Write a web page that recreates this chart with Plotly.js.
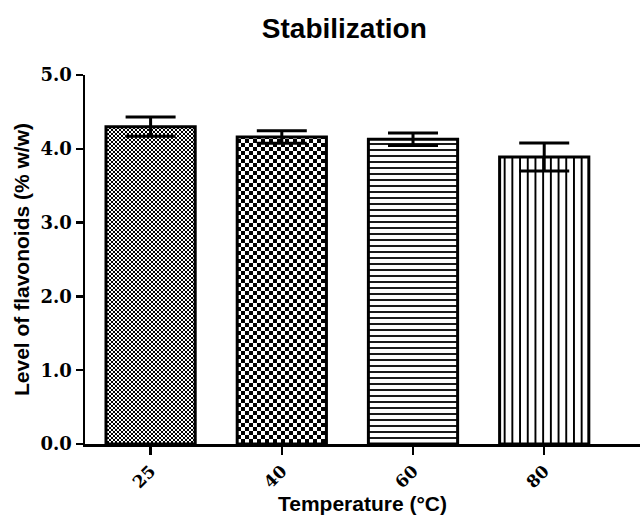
<!DOCTYPE html>
<html>
<head>
<meta charset="utf-8">
<script src="https://cdn.plot.ly/plotly-3.0.1.min.js"></script>
<style>html,body{margin:0;padding:0;background:#fff;}#chart{width:640px;height:517px;}</style>
</head>
<body>
<div id="chart"></div>
<script>
const categories = ["25", "40", "60", "80"];
const means = [4.30, 4.16, 4.13, 3.89];
const errors = [0.13, 0.085, 0.085, 0.19];
const yTickVals = [0, 1, 2, 3, 4, 5];
const yTickText = ["0.0", "1.0", "2.0", "3.0", "4.0", "5.0"];

const shapes = [".", ".", "-", "|"];
const sizes = [4, 8, 6, 7.7];
const solidities = [0.5, 0.5, 0.3, 0.25];

const trace = {
  type: "bar",
  x: categories,
  y: means,
  width: 0.68,
  marker: {
    color: "#ffffff",
    line: {color: "#000", width: 3},
    pattern: {
      shape: shapes,
      size: sizes,
      solidity: solidities,
      fgcolor: "#000",
      fgopacity: 1,
      bgcolor: "#fff",
      fillmode: "replace"
    }
  },
  error_y: {type: "data", array: errors, visible: true, color: "#000", thickness: 3, width: 25},
  hoverinfo: "none"
};

const tickFont = {family: "DejaVu Serif", size: 17, color: "#000", weight: "bold"};

const layout = {
  width: 640, height: 517,
  margin: {l: 85, r: 0, t: 75, b: 73},
  paper_bgcolor: "#fff", plot_bgcolor: "#fff",
  showlegend: false,
  title: {text: "<b>Stabilization</b>", font: {family: "Liberation Sans, Arial", size: 28, color: "#000"},
          x: 0.538, xanchor: "center", y: 0.946, yanchor: "middle", yref: "container"},
  xaxis: {
    type: "category",
    range: [-0.5, 3.73],
    showline: true, linecolor: "#000", linewidth: 2.5,
    ticks: "outside", ticklen: 8, tickwidth: 2.5, tickcolor: "#000",
    tickangle: -45,
    tickfont: tickFont,
    showgrid: false, zeroline: false,
    title: {text: "<b>Temperature (°C)</b>", font: {family: "Liberation Sans, Arial", size: 21, color: "#000"}, standoff: 6}
  },
  yaxis: {
    range: [0, 5], tickvals: yTickVals, ticktext: yTickText,
    showline: true, linecolor: "#000", linewidth: 2.5,
    ticks: "outside", ticklen: 7, tickwidth: 2.5, tickcolor: "#000",
    tickfont: {family: "DejaVu Serif", size: 18, color: "#000", weight: "bold"},
    showgrid: false, zeroline: false,
    title: {text: "<b>Level of flavonoids (% w/w)</b>", font: {family: "Liberation Sans, Arial", size: 21, color: "#000"}, standoff: 5}
  }
};

const gd = document.getElementById("chart");
Plotly.newPlot(gd, [trace], layout, {displayModeBar: false, staticPlot: true}).then(function () {
  // turn the dot patterns into checkerboards (style only)
  try {
    const SVGNS = "http://www.w3.org/2000/svg";
    const paths = gd.querySelectorAll(".barlayer .point path");
    paths.forEach(function (p, i) {
      if (shapes[i] !== ".") return;
      const fill = p.style.fill || p.getAttribute("fill") || "";
      const m = /url\(["']?#([^"')]+)["']?\)/.exec(fill);
      if (!m) return;
      const pat = document.getElementById(m[1]);
      if (!pat) return;
      const s = sizes[i];
      while (pat.firstChild) pat.removeChild(pat.firstChild);
      const mk = function (x, y, w, h, c) {
        const r = document.createElementNS(SVGNS, "rect");
        r.setAttribute("x", x); r.setAttribute("y", y);
        r.setAttribute("width", w); r.setAttribute("height", h);
        r.setAttribute("fill", c);
        pat.appendChild(r);
      };
      mk(0, 0, s, s, "#fff");
      mk(0, 0, s / 2, s / 2, "#000");
      mk(s / 2, s / 2, s / 2, s / 2, "#000");
    });
  } catch (e) {}
});
</script>
</body>
</html>
